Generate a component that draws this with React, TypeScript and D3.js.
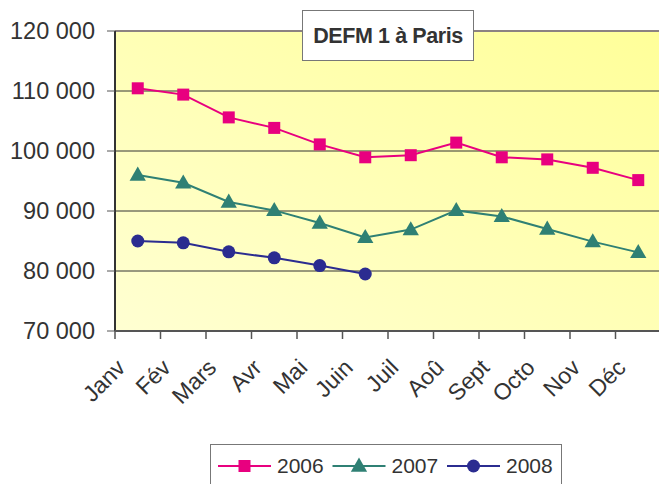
import React from "react";
import * as d3 from "d3";

const months = ["Janv", "Fév", "Mars", "Avr", "Mai", "Juin", "Juil", "Aoû", "Sept", "Octo", "Nov", "Déc"];
const values2006 = [110450, 109400, 105600, 103850, 101100, 98950, 99300, 101400, 98950, 98600, 97200, 95150];
const values2007 = [96000, 94700, 91500, 90100, 88000, 85600, 86900, 90100, 89100, 87000, 84900, 83100];
const values2008 = [85000, 84700, 83200, 82200, 80900, 79500];
const yTicks = [70000, 80000, 90000, 100000, 110000, 120000];
const seriesNames = ["2006", "2007", "2008"];
const title = "DEFM 1 à Paris";

const W = 659, H = 484;
const left = 115, top = 31, bottom = 331, right = 661;

const fmt = (v: number) => d3.format(",")(v).replace(/,/g, " ");

export default function App() {
  const x = d3.scaleBand<string>().domain(months).range([left, right]);
  const y = d3.scaleLinear().domain([70000, 120000]).range([bottom, top]);
  const cx = (m: string) => (x(m) as number) + x.bandwidth() / 2;
  const line = d3.line<[string, number]>().x(d => cx(d[0])).y(d => y(d[1]));
  const colors = ["#E8007F", "#2F8074", "#2B2C90"];
  const series = [values2006, values2007, values2008];
  const sq = 12;
  const tri = d3.symbol().type(d3.symbolTriangle).size(115)();

  const marker = (i: number, px: number, py: number, key: string) => {
    if (i === 0) return <rect key={key} x={px - sq / 2} y={py - sq / 2} width={sq} height={sq} fill={colors[0]} />;
    if (i === 1) return <path key={key} d={tri as string} transform={`translate(${px},${py + 1})`} fill={colors[1]} />;
    return <circle key={key} cx={px} cy={py} r={6.5} fill={colors[2]} />;
  };

  const ticksX = [...months.map(m => x(m) as number), right];

  return (
    <svg width={W} height={H} style={{ position: "absolute", left: 0, top: 0 }} fontFamily="'Liberation Sans', Arial, sans-serif">
      <defs>
        <linearGradient id="bg" x1="0" y1="1" x2="1" y2="0">
          <stop offset="0" stopColor="#FFFFD2" />
          <stop offset="1" stopColor="#FFFF99" />
        </linearGradient>
      </defs>
      <rect x={0} y={0} width={W} height={H} fill="#fff" />
      <rect x={left} y={top} width={right - left} height={bottom - top} fill="url(#bg)" />
      <line x1={left} x2={W} y1={top} y2={top} stroke="#8C8282" strokeWidth={2} />
      {yTicks.slice(1, -1).map(t => (
        <line key={t} x1={left} x2={W} y1={y(t)} y2={y(t)} stroke="#333" strokeWidth={1} />
      ))}
      <line x1={left} x2={left} y1={top} y2={bottom} stroke="#333" strokeWidth={2} />
      <line x1={left} x2={W} y1={bottom} y2={bottom} stroke="#555" strokeWidth={2} />
      {yTicks.map(t => (
        <g key={t}>
          <line x1={left - 8} x2={left} y1={y(t)} y2={y(t)} stroke="#555" strokeWidth={1} />
          <text x={95} y={y(t)} dy="0.36em" textAnchor="end" fontSize={23.5} fill="#333">{fmt(t)}</text>
        </g>
      ))}
      {ticksX.map((t, i) => (
        <line key={i} x1={t} x2={t} y1={bottom} y2={bottom + 8} stroke="#555" strokeWidth={1.5} />
      ))}
      {months.map(m => (
        <text key={m} transform={`translate(${cx(m) - 11},${369}) rotate(-45)`} textAnchor="end" fontSize={23} fill="#333">{m}</text>
      ))}
      {series.map((vals, i) => {
        const pts = vals.map((v, j) => [months[j], v] as [string, number]);
        return (
          <g key={i}>
            <path d={line(pts) as string} fill="none" stroke={colors[i]} strokeWidth={2} />
            {pts.map((p, j) => marker(i, cx(p[0]), y(p[1]), `${i}-${j}`))}
          </g>
        );
      })}
      <rect x={302.5} y={10.5} width={171} height={50} fill="#fff" stroke="#777" strokeWidth={1} />
      <text x={388} y={35} dy="0.35em" textAnchor="middle" fontSize={21.5} fontWeight="bold" fill="#333" letterSpacing={-0.4}>{title}</text>
      <rect x={210.5} y={444.5} width={351} height={50} fill="#fff" stroke="#777" strokeWidth={1} />
      {seriesNames.map((s, i) => {
        const lx = 218 + i * 114.5;
        return (
          <g key={s}>
            <line x1={lx} x2={lx + 53} y1={466} y2={466} stroke={colors[i]} strokeWidth={2} />
            {marker(i, lx + 26.5, 466, `l${i}`)}
            <text x={lx + 59} y={466} dy="0.35em" fontSize={21} fill="#333">{s}</text>
          </g>
        );
      })}
    </svg>
  );
}
